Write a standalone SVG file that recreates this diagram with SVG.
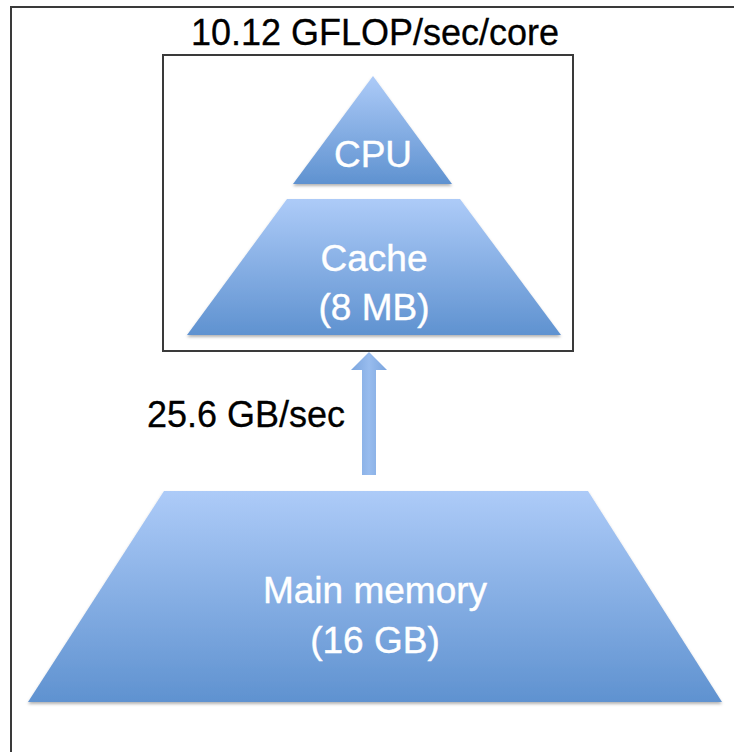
<svg xmlns="http://www.w3.org/2000/svg" width="734" height="752" viewBox="0 0 734 752">
  <defs>
    <linearGradient id="blue" x1="0" y1="0" x2="0" y2="1">
      <stop offset="0" stop-color="#adcbf8"/>
      <stop offset="1" stop-color="#5f92d0"/>
    </linearGradient>
    <linearGradient id="arrowFill" x1="0" y1="0" x2="1" y2="0">
      <stop offset="0" stop-color="#7ba5de"/>
      <stop offset="0.5" stop-color="#98bcee"/>
      <stop offset="1" stop-color="#7ba5de"/>
    </linearGradient>
    <filter id="shadow" x="-5%" y="-5%" width="110%" height="115%">
      <feDropShadow dx="0" dy="2" stdDeviation="1.5" flood-color="#000" flood-opacity="0.3"/>
    </filter>
  </defs>
  <style>
    .frame { fill: none; stroke: #3a3a3a; stroke-width: 2; }
    .shape { fill: url(#blue); filter: url(#shadow); }
    .lbl { font-family: "Liberation Sans", Arial, sans-serif; font-size: 37px; fill: #ffffff; stroke: #ffffff; stroke-width: 0.4; text-anchor: middle; }
    .dark { font-family: "Liberation Sans", Arial, sans-serif; font-size: 36px; fill: #000000; stroke: #000000; stroke-width: 0.3; }
  </style>
  <rect width="734" height="752" fill="#ffffff"/>
  <rect id="outer-frame" class="frame" x="11" y="7" width="760" height="780"/>
  <g id="title">
    <text class="dark" x="375" y="45" text-anchor="middle">10.12 GFLOP/sec/core</text>
  </g>
  <g id="core-box">
    <rect class="frame" x="163" y="55" width="410" height="296"/>
  </g>
  <g id="cpu">
    <polygon class="shape" points="373,76 452,184 293,184"/>
    <text class="lbl" x="373" y="167">CPU</text>
  </g>
  <g id="cache">
    <polygon class="shape" points="287,199 460,199 561,335 187,335"/>
    <text class="lbl" x="374" y="271">Cache</text>
    <text class="lbl" x="374" y="320">(8 MB)</text>
  </g>
  <g id="connectors">
    <polygon fill="url(#arrowFill)" points="369,352 387,370 376,370 376,475 362,475 362,370 351,370"/>
  </g>
  <g id="bandwidth-label">
    <text class="dark" x="345" y="427" text-anchor="end">25.6 GB/sec</text>
  </g>
  <g id="main-memory">
    <polygon class="shape" points="164,491 588,491 722,702 28,702"/>
    <text class="lbl" x="375" y="603">Main memory</text>
    <text class="lbl" x="375" y="653">(16 GB)</text>
  </g>
</svg>
